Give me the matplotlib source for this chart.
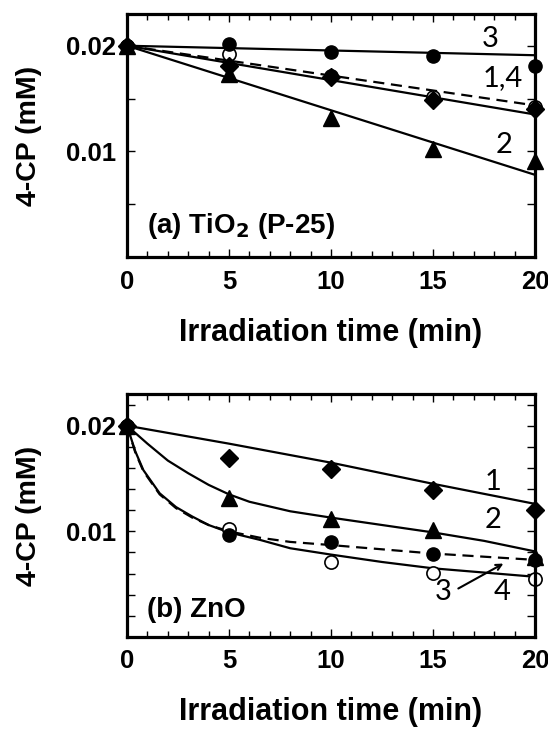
import numpy as np
import matplotlib
matplotlib.use('Agg')
from matplotlib import pyplot as plt
from matplotlib.ticker import FixedLocator, FixedFormatter, MultipleLocator

plt.rcParams['font.family'] = 'Liberation Sans'

# measured points
t = [0, 5, 10, 15, 20]

# (a) TiO2 (P-25)
a_diamond = [0.0200, 0.0181, 0.0170, 0.0149, 0.0140]   # 1
a_triangle = [0.0200, 0.0173, 0.0132, 0.0102, 0.0091]  # 2
a_circle = [0.0200, 0.0202, 0.0194, 0.0190, 0.0181]    # 3
a_open = [0.0200, 0.0192, 0.0171, 0.0151, 0.0142]      # 4

# fitted lines (a), end points
a_fit_t = [0, 20]
a_fit1 = [0.0200, 0.01349]
a_fit2 = [0.0200, 0.00778]
a_fit3 = [0.0200, 0.0191]
a_fit4 = [0.0200, 0.01435]

# (b) ZnO
b_diamond = [0.0200, 0.0169, 0.0159, 0.0139, 0.0120]
b_triangle = [0.0200, 0.0132, 0.0112, 0.0101, 0.0076]
b_circle = [0.0200, 0.0097, 0.0090, 0.0079, 0.0073]
b_open = [0.0200, 0.0102, 0.0071, 0.0061, 0.0055]

# fitted curves (b)
b_fit1_t = [0, 5, 10, 15, 20]
b_fit1 = [0.0200, 0.0183, 0.0165, 0.0145, 0.0126]
b_fit2_t = [0, 1, 2, 3, 4, 5, 6, 8, 10, 12.5, 15, 17.5, 20]
b_fit2 = [0.0200, 0.0183, 0.0167, 0.0155, 0.0144, 0.0135, 0.0128, 0.0119,
          0.0113, 0.0106, 0.0099, 0.0091, 0.0081]
b_fit4_t = [0, 0.4, 0.8, 1.6, 2.4, 3.2, 4, 5, 6.5, 8, 10, 12.5, 15, 17.5, 20]
b_fit4 = [0.0200, 0.0176, 0.0158, 0.0136, 0.0123, 0.0114, 0.0106, 0.0099,
          0.0092, 0.0084, 0.0078, 0.0071, 0.0065, 0.0061, 0.0057]
b_fit3_t = [0, 0.4, 0.8, 1.6, 2.4, 3.2, 4, 5, 6.5, 8, 10, 12.5, 15, 17.5, 20]
b_fit3 = [0.0200, 0.0175, 0.0157, 0.0135, 0.0122, 0.0113, 0.0106, 0.0100,
          0.0094, 0.0090, 0.0087, 0.0083, 0.0079, 0.0076, 0.0073]

fig = plt.figure(figsize=(5.48, 7.31), dpi=100)
ax1 = fig.add_axes([0.2318, 0.6484, 0.7445, 0.3324])
ax2 = fig.add_axes([0.2318, 0.1286, 0.7445, 0.3324])

lw = 1.6
ms_c, ms_d, ms_t = 9.5, 9.5, 11.5


def style(ax, yt, ylab):
    ax.set_xlim(0, 20)
    ax.set_ylim(0, 0.023)
    ax.xaxis.set_major_locator(FixedLocator(t))
    ax.xaxis.set_minor_locator(MultipleLocator(1))
    ax.yaxis.set_major_locator(FixedLocator(yt))
    ax.yaxis.set_major_formatter(FixedFormatter(ylab))
    ax.tick_params(which='both', direction='in', top=True, right=True,
                   width=1.0, labelsize=18.5)
    ax.tick_params(which='major', length=6)
    ax.tick_params(which='minor', length=4)
    ax.tick_params(axis='x', pad=9)
    ax.tick_params(axis='y', pad=8)
    for lab in ax.get_xticklabels() + ax.get_yticklabels():
        lab.set_fontweight('bold')
    for s in ax.spines.values():
        s.set_linewidth(2.3)
    ax.set_ylabel('4-CP (mM)', fontsize=20.5, fontweight='bold', ha='center', va='center')
    ax.yaxis.set_label_coords(-0.24, 0.5)
    ax.set_xlabel('Irradiation time (min)', fontsize=22, fontweight='bold', va='center')


# panel a
ax1.plot(a_fit_t, a_fit3, color='black', lw=lw)
ax1.plot(a_fit_t, a_fit1, color='black', lw=lw)
ax1.plot(a_fit_t, a_fit4, color='black', lw=lw, ls=(0, (5, 3)))
ax1.plot(a_fit_t, a_fit2, color='black', lw=lw)
ax1.plot(t, a_open, 'o', mfc='white', mec='black', mew=1.2, ms=ms_c, clip_on=False)
ax1.plot(t, a_circle, 'o', color='black', ms=ms_c, clip_on=False)
ax1.plot(t, a_triangle, '^', color='black', ms=ms_t, clip_on=False)
ax1.plot(t, a_diamond, 'D', color='black', ms=ms_d, clip_on=False)
style(ax1, [0.005, 0.01, 0.015, 0.02], ['', '0.01', '', '0.02'])
ax1.xaxis.set_label_coords(0.5, -0.313)
ax1.text(0.05, 0.126, '(a) TiO$_\\mathbf{2}$ (P-25)', transform=ax1.transAxes,
         fontsize=20, fontweight='bold', va='center')
num = dict(fontsize=21, family='Lato', ha='center', va='center')
ax1.text(17.8, 0.0206, '3', **num)
ax1.text(18.4, 0.0169, '1,4', **num)
ax1.text(18.5, 0.0106, '2', **num)

# panel b
ax2.plot(b_fit1_t, b_fit1, color='black', lw=lw)
ax2.plot(b_fit2_t, b_fit2, color='black', lw=lw)
ax2.plot(b_fit3_t, b_fit3, color='black', lw=lw, ls=(0, (5, 3)))
ax2.plot(b_fit4_t, b_fit4, color='black', lw=lw)
ax2.plot(t, b_open, 'o', mfc='white', mec='black', mew=1.2, ms=ms_c, clip_on=False)
ax2.plot(t, b_circle, 'o', color='black', ms=ms_c, clip_on=False)
ax2.plot(t, b_triangle, '^', color='black', ms=ms_t, clip_on=False)
ax2.plot(t, b_diamond, 'D', color='black', ms=ms_d, clip_on=False)
b_ticks = [0.002, 0.004, 0.006, 0.008, 0.01, 0.012, 0.014, 0.016, 0.018, 0.02, 0.022]
b_labels = ['', '', '', '', '0.01', '', '', '', '', '0.02', '']
style(ax2, b_ticks, b_labels)
ax2.xaxis.set_label_coords(0.5, -0.31)
ax2.text(0.05, 0.11, '(b) ZnO', transform=ax2.transAxes,
         fontsize=20, fontweight='bold', va='center')
ax2.text(17.96, 0.01465, '1', **num)
ax2.text(17.96, 0.01104, '2', **num)
ax2.text(15.5, 0.00427, '3', **num)
ax2.text(18.37, 0.00427, '4', **num)
ax2.annotate('', xy=(18.45, 0.00695), xytext=(16.24, 0.00459),
             arrowprops=dict(arrowstyle='->', color='black', lw=1.5,
                             shrinkA=0, shrinkB=0))

fig.savefig('out.png', dpi=100)
